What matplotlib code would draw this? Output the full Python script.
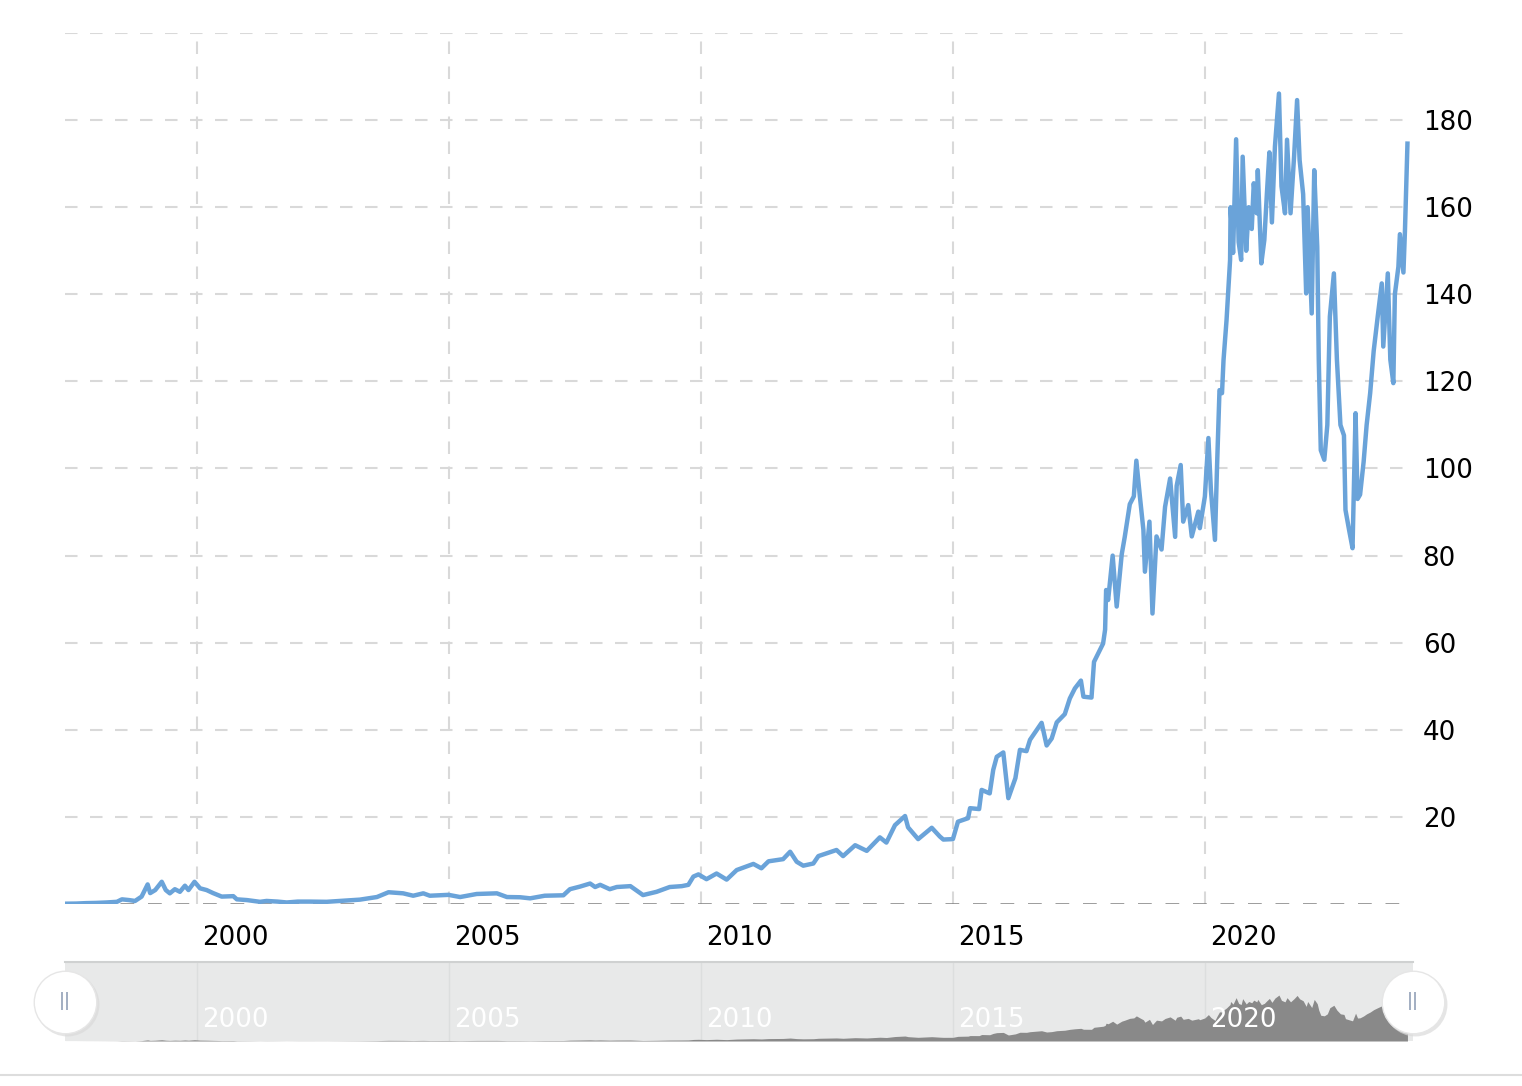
import numpy as np
import matplotlib
matplotlib.use('Agg')
import matplotlib.pyplot as plt
from matplotlib.transforms import ScaledTranslation, blended_transform_factory
from matplotlib.lines import Line2D

##########
# Data   #
##########
years = [
	1997.38, 1997.6, 1997.8, 1998.0, 1998.2, 1998.41, 1998.51, 1998.65, 1998.77, 1998.9,
	1999.02, 1999.07, 1999.17, 1999.30, 1999.38, 1999.46, 1999.56, 1999.66, 1999.76, 1999.83,
	1999.95, 2000.06, 2000.19, 2000.32, 2000.49, 2000.72, 2000.79, 2000.99, 2001.25, 2001.38,
	2001.6, 2001.78, 2002.0, 2002.24, 2002.57, 2002.9, 2003.23, 2003.57, 2003.8, 2004.09,
	2004.29, 2004.49, 2004.62, 2004.99, 2005.22, 2005.55, 2005.95, 2006.15, 2006.41, 2006.61,
	2006.9, 2007.27, 2007.40, 2007.6, 2007.80, 2007.9, 2008.0, 2008.19, 2008.33, 2008.6,
	2008.85, 2009.12, 2009.38, 2009.62, 2009.75, 2009.85, 2009.95, 2010.11, 2010.31, 2010.51,
	2010.71, 2011.04, 2011.2, 2011.34, 2011.63, 2011.77, 2011.9, 2012.03, 2012.23, 2012.33,
	2012.69, 2012.82, 2013.06, 2013.29, 2013.55, 2013.68, 2013.85, 2014.05, 2014.11, 2014.31,
	2014.58, 2014.74, 2014.81, 2015.0, 2015.1, 2015.3, 2015.34, 2015.52, 2015.57, 2015.73,
	2015.8, 2015.87, 2016.0, 2016.1, 2016.24, 2016.33, 2016.46, 2016.53, 2016.76, 2016.86,
	2016.96, 2017.06, 2017.22, 2017.32, 2017.42, 2017.54, 2017.59, 2017.75, 2017.80, 2017.98,
	2018.02, 2018.04, 2018.08, 2018.12, 2018.17, 2018.25, 2018.35, 2018.41, 2018.51, 2018.59,
	2018.64, 2018.71, 2018.78, 2018.81, 2018.9, 2018.96, 2019.04, 2019.14, 2019.21, 2019.31,
	2019.41, 2019.44, 2019.52, 2019.57, 2019.67, 2019.74, 2019.87, 2019.9, 2020.0, 2020.07,
	2020.12, 2020.2, 2020.24, 2020.29, 2020.34, 2020.37, 2020.43, 2020.5, 2020.51, 2020.56,
	2020.62, 2020.67, 2020.72, 2020.75, 2020.82, 2020.87, 2020.93, 2020.97, 2021.03, 2021.05,
	2021.12, 2021.18, 2021.23, 2021.28, 2021.33, 2021.39, 2021.47, 2021.52, 2021.59, 2021.63,
	2021.7, 2021.77, 2021.83, 2021.88, 2021.95, 2022.01, 2022.04, 2022.12, 2022.17, 2022.23,
	2022.26, 2022.30, 2022.37, 2022.43, 2022.48, 2022.56, 2022.62, 2022.69, 2022.76, 2022.79,
	2022.86, 2022.93, 2022.99, 2023.03, 2023.08, 2023.15, 2023.21, 2023.28, 2023.35, 2023.43,
	2023.51, 2023.54, 2023.63, 2023.68, 2023.74, 2023.77, 2023.84, 2023.87, 2023.94, 2023.97,
	2024.02,
]
prices = [
	0.07, 0.1, 0.2, 0.25, 0.35, 0.5, 1.07, 0.9, 0.7, 1.7,
	4.5, 2.5, 3.2, 5.1, 3.2, 2.45, 3.4, 2.8, 4.2, 3.2,
	5.1, 3.6, 3.2, 2.5, 1.7, 1.8, 1.07, 0.9, 0.5, 0.7,
	0.55, 0.35, 0.55, 0.55, 0.5, 0.75, 1.0, 1.6, 2.7, 2.45,
	1.9, 2.45, 1.9, 2.1, 1.6, 2.3, 2.45, 1.6, 1.55, 1.3,
	1.9, 2.0, 3.4, 4.0, 4.7, 3.9, 4.4, 3.4, 3.9, 4.1,
	2.05, 2.8, 3.9, 4.1, 4.4, 6.3, 6.8, 5.7, 7.0, 5.6,
	7.8, 9.2, 8.2, 9.8, 10.3, 12.0, 9.7, 8.8, 9.3, 11.0,
	12.4, 11.0, 13.5, 12.2, 15.3, 14.1, 18.1, 20.2, 17.6, 14.9,
	17.5, 15.5, 14.8, 14.9, 18.9, 19.7, 22.0, 21.8, 26.2, 25.4,
	30.8, 33.8, 34.8, 24.3, 28.9, 35.4, 35.1, 37.7, 41.6, 36.4,
	38.0, 41.7, 43.6, 47.2, 49.5, 51.3, 47.6, 47.4, 55.6, 59.8,
	63.0, 72.1, 69.8, 74.4, 80.0, 68.3, 80.3, 84.3, 91.8, 93.6,
	101.8, 93.6, 85.9, 76.3, 87.8, 66.7, 84.4, 81.4, 91.2, 97.7,
	84.3, 96.0, 100.8, 87.8, 91.6, 84.4, 90.1, 86.3, 93.6, 107.0,
	95.0, 83.6, 100.0, 118.0, 117.3, 124.9, 134.1, 147.9, 160.0, 149.5,
	175.6, 152.0, 147.9, 171.6, 150.0, 160.0, 155.0, 165.5, 158.6, 168.5,
	147.1, 152.5, 163.0, 172.6, 156.5, 173.9, 186.1, 164.8, 158.6, 175.5,
	158.6, 171.6, 184.6, 170.8, 163.0, 140.2, 160.0, 135.6, 168.5, 150.9,
	125.0, 104.2, 102.0, 110.0, 134.9, 144.8, 125.0, 110.0, 107.6, 90.5,
	86.0, 81.7, 112.7, 93.0, 94.0, 101.5, 110.0, 117.3, 127.0, 134.9,
	142.5, 128.0, 144.8, 125.0, 119.6, 140.0, 146.3, 153.8, 145.0, 154.5,
	174.6,
]
year_ticks = [2000, 2005, 2010, 2015, 2020]
price_ticks = [20, 40, 60, 80, 100, 120, 140, 160, 180, 200]
price_labels = ['20', '40', '60', '80', '100', '120', '140', '160', '180', '']

x = np.array( years )
y = np.array( prices )

x_min, x_max = 1997.38, 2024.13
line_color = '#6aa3d9'
grid_color = '#d9d9d9'

##########
# Figure #
##########
fig = plt.figure( figsize = ( 15.22, 10.86 ), dpi = 100 )
fig.patch.set_facecolor( 'white' )

W, H = 1522, 1086
ax = fig.add_axes( [65 / W, ( H - 904 ) / H, ( 1413 - 65 ) / W, ( 904 - 33 ) / H] )
nav = fig.add_axes( [65 / W, ( H - 1041 ) / H, ( 1413 - 65 ) / W, ( 1041 - 962 ) / H] )

# main chart
ax.plot( x, y, color = line_color, lw = 3.2, solid_joinstyle = 'round', zorder = 3 )
ax.set_xlim( x_min, x_max )
ax.set_ylim( 0, 200 )

for s in ax.spines.values():
	s.set_visible( False )

ax.set_yticks( price_ticks, labels = price_labels )
ax.set_xticks( year_ticks, labels = [str( t ) for t in year_ticks] )
ax.yaxis.tick_right()
ax.tick_params( axis = 'y', length = 0, pad = 7, labelsize = 18.8, labelcolor = 'black' )
ax.tick_params( axis = 'x', length = 0, pad = 15, labelsize = 18.8, labelcolor = 'black' )
off = ScaledTranslation( 5 / 100, 0, fig.dpi_scale_trans )
for lbl in ax.get_xticklabels():
	lbl.set_horizontalalignment( 'left' )
	lbl.set_transform( lbl.get_transform() + off )

ax.grid( True, color = grid_color, lw = 1.5, linestyle = ( 0, ( 6, 6 ) ), zorder = 0 )
ax.axhline( 0, color = '#808080', lw = 1.8, linestyle = ( 0, ( 5.5, 5.5 ) ), zorder = 2 )

# navigator
nav.set_facecolor( '#e8e9e9' )
nav.fill_between( x, 0, y, color = '#898989', lw = 0, zorder = 2 )
nav.set_xlim( x_min, x_max )
nav.set_ylim( 0, 320 )
nav.set_xticks( year_ticks )
nav.set_yticks( [] )
nav.tick_params( axis = 'x', length = 0, labelbottom = False )
nav.grid( True, axis = 'x', color = '#dcdede', lw = 1.0, zorder = 1 )
for s in nav.spines.values():
	s.set_visible( False )
nav.spines['top'].set_visible( True )
nav.spines['top'].set_color( '#cfd1d1' )
nav.spines['top'].set_linewidth( 1.5 )

tr = blended_transform_factory( nav.transData, nav.transAxes )
for t in year_ticks:
	nav.text( t, 0.27, str( t ), transform = tr + off, ha = 'left', va = 'center',
		fontsize = 18.8, color = 'white', zorder = 4 )

# navigator handles
for hx in ( x_min, x_max ):
	nav.plot( [hx], [0.5], marker = 'o', ms = 46, mfc = '#dadada', mec = 'none',
		transform = tr + ScaledTranslation( 1.5 / 100, -2.5 / 100, fig.dpi_scale_trans ),
		clip_on = False, zorder = 5, alpha = 0.7 )
	nav.plot( [hx], [0.5], marker = 'o', ms = 45, mfc = 'white', mec = '#e6e6e6', mew = 1.0,
		transform = tr, clip_on = False, zorder = 6 )
	nav.text( hx, 0.5, '||', transform = tr, ha = 'center', va = 'center',
		fontsize = 13, color = '#8797b0', zorder = 7, clip_on = False )

# bottom separator
fig.add_artist( Line2D( [0, 1], [( H - 1075 ) / H] * 2, color = '#dddddd', lw = 1.5,
	transform = fig.transFigure ) )

fig.savefig( 'out.png', dpi = 100, facecolor = 'white' )
